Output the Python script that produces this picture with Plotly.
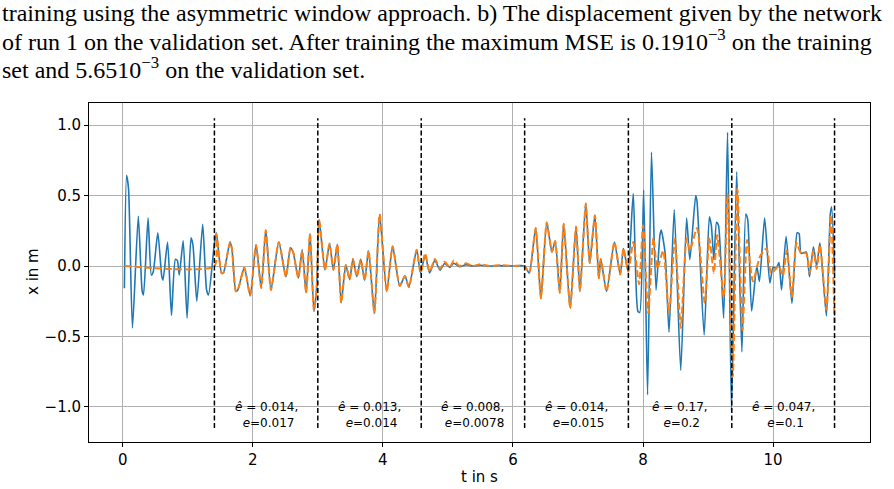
import plotly.graph_objects as go

# ---------------- data ----------------
t_true = [0.026, 0.06, 0.09, 0.15, 0.24, 0.30, 0.32, 0.39, 0.44, 0.47, 0.54, 0.60, 0.62, 0.69, 0.75, 0.81, 0.84, 0.87, 0.93, 0.99, 1.05, 1.08, 1.14, 1.23, 1.29, 1.32, 1.41,
          1.44, 1.52, 1.55, 1.65, 1.68, 1.74, 1.77, 1.87, 1.96, 2.05, 2.13, 2.20, 2.28, 2.40, 2.51, 2.58, 2.62, 2.70, 2.76, 2.82, 2.88, 2.94, 2.98, 3.02,
          3.11, 3.18, 3.24, 3.30, 3.36, 3.43, 3.49, 3.54, 3.60, 3.66, 3.72, 3.78, 3.87, 3.95, 4.06, 4.15, 4.26, 4.34, 4.40, 4.52,
          4.58, 4.65, 4.72, 4.80, 4.88, 4.95, 5.03, 5.09, 5.18, 5.28, 5.38, 5.50, 5.65, 5.80, 6.00, 6.18,
          6.25, 6.35, 6.43, 6.52, 6.60, 6.65, 6.72, 6.78, 6.88, 6.97, 7.03, 7.12, 7.18, 7.26, 7.32, 7.35, 7.44, 7.56, 7.65, 7.70, 7.77,
          7.85, 7.92, 7.95, 8.01, 8.07, 8.13, 8.20, 8.26, 8.28, 8.34, 8.40, 8.48, 8.58, 8.67, 8.72, 8.81, 8.83, 8.94, 9.02, 9.05, 9.09, 9.13, 9.16, 9.24, 9.30, 9.36,
          9.44, 9.52, 9.58, 9.61, 9.67, 9.75, 9.79, 9.87, 9.95, 10.00, 10.05, 10.09, 10.13, 10.20, 10.29, 10.37, 10.40, 10.43, 10.51, 10.56, 10.62, 10.67, 10.72, 10.82, 10.88, 10.90, 10.945]
x_true = [-0.158, 0.645, 0.55, -0.44, 0.354, -0.18, -0.205, 0.34, -0.064, -0.04, 0.236, -0.07, -0.1, 0.17, -0.35, 0.047, 0.04, -0.064, 0.18, -0.37, 0.20, 0.15, -0.25, 0.297, -0.17, -0.205, 0.16,
          0.236, -0.05, -0.047, 0.17, 0.12, -0.18, -0.17, -0.01, -0.21, 0.15, -0.156, 0.255, -0.17, 0.17, -0.076, 0.13, 0.10, -0.085, 0.113, -0.19, 0.23, -0.32, -0.17, 0.33,
          -0.028, 0.16, -0.028, 0.154, -0.26, 0.007, -0.095, 0.05, -0.076, 0.047, -0.10, 0.109, -0.336, 0.367, -0.18, 0.14, -0.142, -0.07, -0.15, 0.115,
          -0.05, 0.078, -0.05, 0.04, -0.03, 0.018, -0.01, 0.02, -0.005, 0.01, 0.0, 0.005, 0.0, 0.003, 0.0, 0.0,
          -0.05, 0.27, -0.23, 0.31, 0.10, 0.177, -0.19, 0.30, -0.30, 0.28, -0.18, 0.445, 0.02, 0.36, -0.087, 0.05, -0.18, 0.17, -0.06, 0.125, -0.04,
          0.515, -0.32, -0.33, 0.54, -0.915, 0.81, -0.17, 0.22, 0.255, 0.09, -0.47, 0.40, -0.74, 0.34, 0.045, 0.50, 0.46, -0.49, 0.35, 0.29, 0.045, 0.31, 0.29, -0.37, 0.95, -1.03,
          0.67, -0.61, 0.37, 0.33, -0.32, 0.0, -0.11, 0.34, -0.12, -0.01, -0.015, 0.025, -0.17, 0.21, -0.265, 0.236, 0.23, 0.09, 0.10, -0.076, 0.137, 0.0, 0.165, -0.355, 0.37, 0.42, -0.05]

t_pred = [0.03, 1.41,
          1.44, 1.52, 1.55, 1.65, 1.68, 1.74, 1.77, 1.87, 1.96, 2.05, 2.13, 2.20, 2.28, 2.40, 2.51, 2.58, 2.62, 2.70, 2.76, 2.82, 2.88, 2.94, 2.98, 3.02,
          3.11, 3.18, 3.24, 3.30, 3.36, 3.43, 3.49, 3.54, 3.60, 3.66, 3.72, 3.78, 3.87, 3.95, 4.06, 4.15, 4.26, 4.34, 4.40, 4.52,
          4.58, 4.65, 4.72, 4.80, 4.88, 4.95, 5.03, 5.09, 5.18, 5.28, 5.38, 5.50, 5.65, 5.80, 6.00, 6.18,
          6.25, 6.35, 6.43, 6.52, 6.60, 6.65, 6.72, 6.78, 6.88, 6.97, 7.03, 7.12, 7.18, 7.26, 7.32, 7.35, 7.44, 7.56, 7.65, 7.70, 7.775,
          7.85, 7.94, 8.00, 8.08, 8.16, 8.22, 8.31, 8.40, 8.49, 8.58, 8.67, 8.72, 8.83, 8.95, 9.02, 9.09, 9.14, 9.24, 9.30, 9.38,
          9.45, 9.53, 9.60, 9.69, 9.80, 9.90, 9.97, 10.09, 10.15, 10.21, 10.29, 10.36, 10.43, 10.51, 10.56, 10.62, 10.67, 10.72, 10.82, 10.89, 10.945]
x_pred = [0.0, 0.0,
          0.23, -0.05, -0.047, 0.17, 0.12, -0.18, -0.17, -0.01, -0.21, 0.15, -0.156, 0.255, -0.17, 0.17, -0.076, 0.13, 0.10, -0.085, 0.113, -0.19, 0.23, -0.32, -0.17, 0.33,
          -0.028, 0.16, -0.028, 0.154, -0.26, 0.007, -0.095, 0.05, -0.076, 0.047, -0.10, 0.109, -0.336, 0.367, -0.18, 0.14, -0.142, -0.07, -0.15, 0.115,
          -0.05, 0.09, -0.04, 0.05, -0.02, 0.03, -0.01, 0.04, 0.0, 0.02, 0.0, 0.012, 0.0, 0.006, 0.0, 0.0,
          -0.05, 0.27, -0.23, 0.31, 0.10, 0.177, -0.19, 0.30, -0.30, 0.28, -0.18, 0.445, 0.02, 0.36, -0.087, 0.05, -0.18, 0.17, -0.06, 0.125, -0.04,
          0.17, -0.13, 0.29, -0.335, 0.20, -0.02, 0.11, -0.335, 0.195, -0.44, 0.195, 0.11, 0.27, -0.265, 0.195, -0.05, 0.22, -0.22, 0.515, -0.785,
          0.55, -0.454, 0.185, -0.11, 0.07, 0.125, -0.05, 0.0, -0.07, 0.11, -0.22, 0.165, 0.09, 0.09, -0.05, 0.11, -0.02, 0.15, -0.31, 0.36, -0.405]

boundaries = [1.41, 3.0, 4.59, 6.18, 7.775, 9.365, 10.945]
e_hat = ["0.014", "0.013", "0.008", "0.014", "0.17", "0.047"]
e_val = ["0.017", "0.014", "0.0078", "0.015", "0.2", "0.1"]

header_lines = [
    "training using the asymmetric window approach. b) The displacement given by the network",
    "of run 1 on the validation set. After training the maximum MSE is 0.1910<sup>\u22123</sup> on the training",
    "set and 5.6510<sup>\u22123</sup> on the validation set.",
]

# ---------------- layout geometry ----------------
W, H = 894, 489
L, R, T, B = 89, 870, 103, 442
pw, ph = R - L, B - T

def px2x(px):
    return (px - L) / pw

def py2y(py):
    return (B - py) / ph

fig = go.Figure()
fig.add_trace(go.Scatter(x=t_true, y=x_true, mode="lines",
                         line=dict(color="#1f77b4", width=1.6, shape="spline", smoothing=0.6),
                         showlegend=False))
fig.add_trace(go.Scatter(x=t_pred, y=x_pred, mode="lines",
                         line=dict(color="#ff7f0e", width=2, dash="7px,3px", shape="spline", smoothing=0.6),
                         showlegend=False))

shapes = []
for b in boundaries:
    shapes.append(dict(type="line", xref="x", yref="y", x0=b, x1=b, y0=-1.15, y1=1.05,
                       line=dict(color="black", width=1.5, dash="5px,2.5px"), layer="above"))

annotations = []
for i in range(len(e_hat)):
    xm = (boundaries[i] + boundaries[i + 1]) / 2
    annotations.append(dict(x=xm, y=-1.06, xref="x", yref="y", showarrow=False,
                            text=f"<i>ê</i> = {e_hat[i]},<br> <i>e</i>={e_val[i]}",
                            font=dict(family="DejaVu Sans", size=12, color="black"),
                            align="center", xanchor="center", yanchor="middle"))

header_centers = [13, 40, 68]
for line, cy in zip(header_lines, header_centers):
    annotations.append(dict(x=px2x(0), y=py2y(cy), xref="paper", yref="paper", showarrow=False,
                            text=line, xanchor="left", yanchor="middle", align="left",
                            font=dict(family="Liberation Serif", size=24, color="black")))

annotations.append(dict(x=px2x(479), y=py2y(477), xref="paper", yref="paper", showarrow=False,
                        text="t in s", xanchor="center", yanchor="middle",
                        font=dict(family="DejaVu Sans", size=15, color="black")))
annotations.append(dict(x=px2x(33), y=py2y(272), xref="paper", yref="paper", showarrow=False,
                        text="x in m", textangle=-90, xanchor="center", yanchor="middle",
                        font=dict(family="DejaVu Sans", size=15, color="black")))

axis_common = dict(showline=True, linecolor="black", linewidth=1, mirror=True,
                   showgrid=True, gridcolor="#b0b0b0", gridwidth=0.8, zeroline=False,
                   ticks="outside", ticklen=4, tickwidth=1, tickcolor="black",
                   tickfont=dict(family="DejaVu Sans", size=15, color="black"))

fig.update_layout(
    width=W, height=H,
    margin=dict(l=L, r=W - R, t=T, b=H - B, pad=0),
    paper_bgcolor="white", plot_bgcolor="white",
    xaxis=dict(range=[-0.518, 11.49], tickmode="array", tickvals=[0, 2, 4, 6, 8, 10],
               ticktext=["0", "2", "4", "6", "8", "10"], **axis_common),
    yaxis=dict(range=[-1.25, 1.158], tickmode="array", tickvals=[-1.0, -0.5, 0.0, 0.5, 1.0],
               ticktext=["\u22121.0", "\u22120.5", "0.0", "0.5", "1.0"], **axis_common),
    shapes=shapes,
    annotations=annotations,
)

fig.write_html("out.html")
